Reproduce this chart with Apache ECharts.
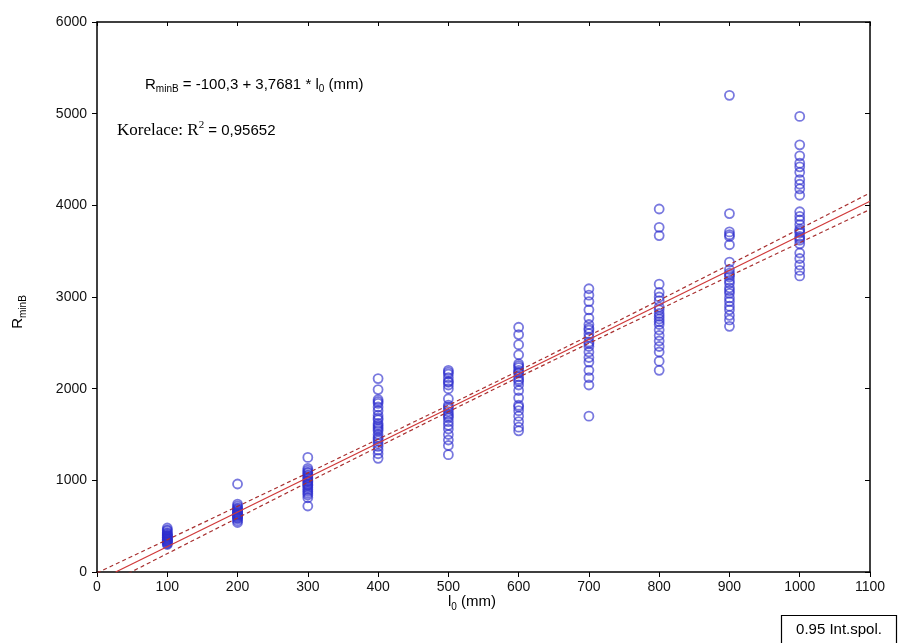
<!DOCTYPE html>
<html>
<head>
<meta charset="utf-8">
<script src="https://cdn.jsdelivr.net/npm/echarts@6/dist/echarts.min.js"></script>
<style>
html,body{margin:0;padding:0;background:#fff;}
#c{width:898px;height:643px;}
</style>
</head>
<body>
<div id="c"></div>
<script>
// ---- data ----
const xCategories = [100, 200, 300, 400, 500, 600, 700, 800, 900, 1000];
const r100 = [480, 460, 450, 430, 420, 410, 400, 395, 390, 380, 375, 370, 360, 355, 350, 340, 335, 330, 320, 310, 300];
const r200 = [960, 740, 720, 700, 690, 680, 670, 660, 650, 640, 630, 625, 620, 610, 600, 590, 580, 560, 540];
const r300 = [1250, 1130, 1110, 1090, 1080, 1060, 1050, 1030, 1020, 1000, 990, 980, 960, 950, 940, 920, 900, 880, 860, 840, 810, 720];
const r400 = [2110, 1990, 1880, 1860, 1840, 1800, 1760, 1710, 1680, 1660, 1620, 1600, 1580, 1560, 1540, 1500, 1470, 1450, 1430, 1400, 1370, 1330, 1290, 1240];
const r500 = [2200, 2180, 2160, 2120, 2080, 2070, 2040, 2000, 1890, 1820, 1800, 1780, 1750, 1720, 1700, 1680, 1640, 1600, 1560, 1500, 1440, 1380, 1280];
const r600 = [2670, 2590, 2480, 2370, 2270, 2250, 2230, 2200, 2180, 2170, 2130, 2100, 2080, 2040, 1980, 1900, 1820, 1800, 1760, 1700, 1640, 1580, 1540];
const r700 = [3090, 3020, 2950, 2860, 2770, 2700, 2660, 2640, 2600, 2560, 2510, 2490, 2460, 2400, 2340, 2290, 2200, 2120, 2040, 1700];
const r800 = [3960, 3760, 3670, 3140, 3050, 3000, 2960, 2890, 2860, 2820, 2790, 2760, 2730, 2700, 2640, 2580, 2520, 2460, 2400, 2300, 2200];
const r900 = [5200, 3910, 3710, 3680, 3660, 3570, 3380, 3300, 3260, 3240, 3220, 3180, 3150, 3100, 3070, 3040, 2990, 2950, 2900, 2860, 2800, 2750, 2680];
const r1000 = [4970, 4660, 4540, 4460, 4420, 4360, 4280, 4230, 4180, 4110, 3930, 3880, 3840, 3790, 3740, 3720, 3700, 3660, 3640, 3620, 3580, 3480, 3420, 3350, 3290, 3230];
const columns = [r100, r200, r300, r400, r500, r600, r700, r800, r900, r1000];

// regression: R = -100.3 + 3.7681 * l0
const intercept = -100.3;
const slope = 3.7681;
const fitX = [26.6, 1100];
// 0.95 confidence band
const bandX = [0, 200, 400, 550, 700, 900, 1100];
const bandUpper = [-10, 716, 1449, 2007, 2579, 3354, 4135];
const bandLower = [-190, 590, 1365, 1937, 2495, 3228, 3955];

const xTicks = [0, 100, 200, 300, 400, 500, 600, 700, 800, 900, 1000, 1100];
const yTicks = [0, 1000, 2000, 3000, 4000, 5000, 6000];

// ---- build ----
const scatterData = [];
columns.forEach((col, i) => col.forEach(v => scatterData.push([xCategories[i], v])));
const fitData = fitX.map(x => [x, intercept + slope * x]);
const upData = bandX.map((x, i) => [x, bandUpper[i]]);
const loData = bandX.map((x, i) => [x, bandLower[i]]);

const chart = echarts.init(document.getElementById('c'));
const font = 'Liberation Sans, Arial, sans-serif';
const plain = v => String(v);
chart.setOption({
  backgroundColor: '#ffffff',
  animation: false,
  grid: {left: 97, top: 22, right: 28, bottom: 71, containLabel: false},
  xAxis: [{
    type: 'value', min: xTicks[0], max: xTicks[xTicks.length - 1], interval: 100,
    axisLine: {show: true, onZero: false, lineStyle: {color: '#000', width: 1.5}},
    axisTick: {show: true, inside: false, length: 5, lineStyle: {color: '#000'}},
    axisLabel: {color: '#111', fontSize: 14, fontFamily: font, margin: 8, formatter: plain},
    splitLine: {show: false}
  }, {
    type: 'value', position: 'top', min: xTicks[0], max: xTicks[xTicks.length - 1], interval: 100,
    axisLine: {show: true, onZero: false, lineStyle: {color: '#000', width: 1.5}},
    axisTick: {show: true, inside: true, length: 4, lineStyle: {color: '#000'}},
    axisLabel: {show: false}, splitLine: {show: false}
  }],
  yAxis: [{
    type: 'value', min: yTicks[0], max: yTicks[yTicks.length - 1], interval: 1000,
    axisLine: {show: true, onZero: false, lineStyle: {color: '#000', width: 1.5}},
    axisTick: {show: true, inside: false, length: 5, lineStyle: {color: '#000'}},
    axisLabel: {color: '#111', fontSize: 14, fontFamily: font, margin: 10, formatter: plain},
    splitLine: {show: false}
  }, {
    type: 'value', position: 'right', min: yTicks[0], max: yTicks[yTicks.length - 1], interval: 1000,
    axisLine: {show: true, onZero: false, lineStyle: {color: '#000', width: 1.5}},
    axisTick: {show: true, inside: true, length: 5, lineStyle: {color: '#000'}},
    axisLabel: {show: false}, splitLine: {show: false}
  }],
  series: [{
    type: 'scatter', data: scatterData, symbol: 'circle', symbolSize: 9,
    itemStyle: {color: 'rgba(255,255,255,0)', borderColor: 'rgba(45,45,205,0.8)', borderWidth: 1.8},
    z: 3
  }, {
    type: 'line', data: fitData, showSymbol: false, clip: true,
    lineStyle: {color: '#d03a3a', width: 1.3}, z: 4
  }, {
    type: 'line', data: upData, showSymbol: false, smooth: true, clip: true,
    lineStyle: {color: '#a83030', width: 1.2, type: [4, 3]}, z: 4
  }, {
    type: 'line', data: loData, showSymbol: false, smooth: true, clip: true,
    lineStyle: {color: '#a83030', width: 1.2, type: [4, 3]}, z: 4
  }],
  graphic: [{
    type: 'text', left: 145, top: 77,
    style: {
      text: '{n|R}{s|minB}{n| = -100,3 + 3,7681 * l}{s|0}{n| (mm)}',
      rich: {
        n: {fontSize: 15, fontFamily: font, fill: '#000', lineHeight: 20, verticalAlign: 'middle'},
        s: {fontSize: 10, fontFamily: font, fill: '#000', lineHeight: 10, verticalAlign: 'bottom'}
      }
    }
  }, {
    type: 'text', left: 117, top: 120,
    style: {
      text: '{t|Korelace: R}{p|2}{n| = 0,95652}',
      rich: {
        t: {fontSize: 17, fontFamily: 'Liberation Serif, Times New Roman, serif', fill: '#000', lineHeight: 22, verticalAlign: 'middle'},
        p: {fontSize: 11, fontFamily: 'Liberation Serif, Times New Roman, serif', fill: '#000', lineHeight: 11, verticalAlign: 'top'},
        n: {fontSize: 15, fontFamily: font, fill: '#000', lineHeight: 22, verticalAlign: 'middle'}
      }
    }
  }, {
    type: 'text', x: 18, y: 312, rotation: Math.PI / 2,
    style: {
      text: '{n|R}{s|minB}', align: 'center', verticalAlign: 'middle',
      rich: {
        n: {fontSize: 15, fontFamily: font, fill: '#000', lineHeight: 20, verticalAlign: 'middle'},
        s: {fontSize: 10, fontFamily: font, fill: '#000', lineHeight: 10, verticalAlign: 'bottom'}
      }
    }
  }, {
    type: 'text', x: 472, y: 602,
    style: {
      text: '{n|l}{s|0}{n| (mm)}', align: 'center', verticalAlign: 'middle',
      rich: {
        n: {fontSize: 15, fontFamily: font, fill: '#000', lineHeight: 20, verticalAlign: 'middle'},
        s: {fontSize: 10, fontFamily: font, fill: '#000', lineHeight: 10, verticalAlign: 'bottom'}
      }
    }
  }, {
    type: 'rect', shape: {x: 781.5, y: 615.5, width: 115, height: 28},
    style: {fill: '#fff', stroke: '#000', lineWidth: 1.2}
  }, {
    type: 'text', x: 839, y: 630,
    style: {text: '0.95 Int.spol.', align: 'center', verticalAlign: 'middle', fontSize: 15, fontFamily: font, fill: '#000'}
  }]
});
</script>
</body>
</html>
